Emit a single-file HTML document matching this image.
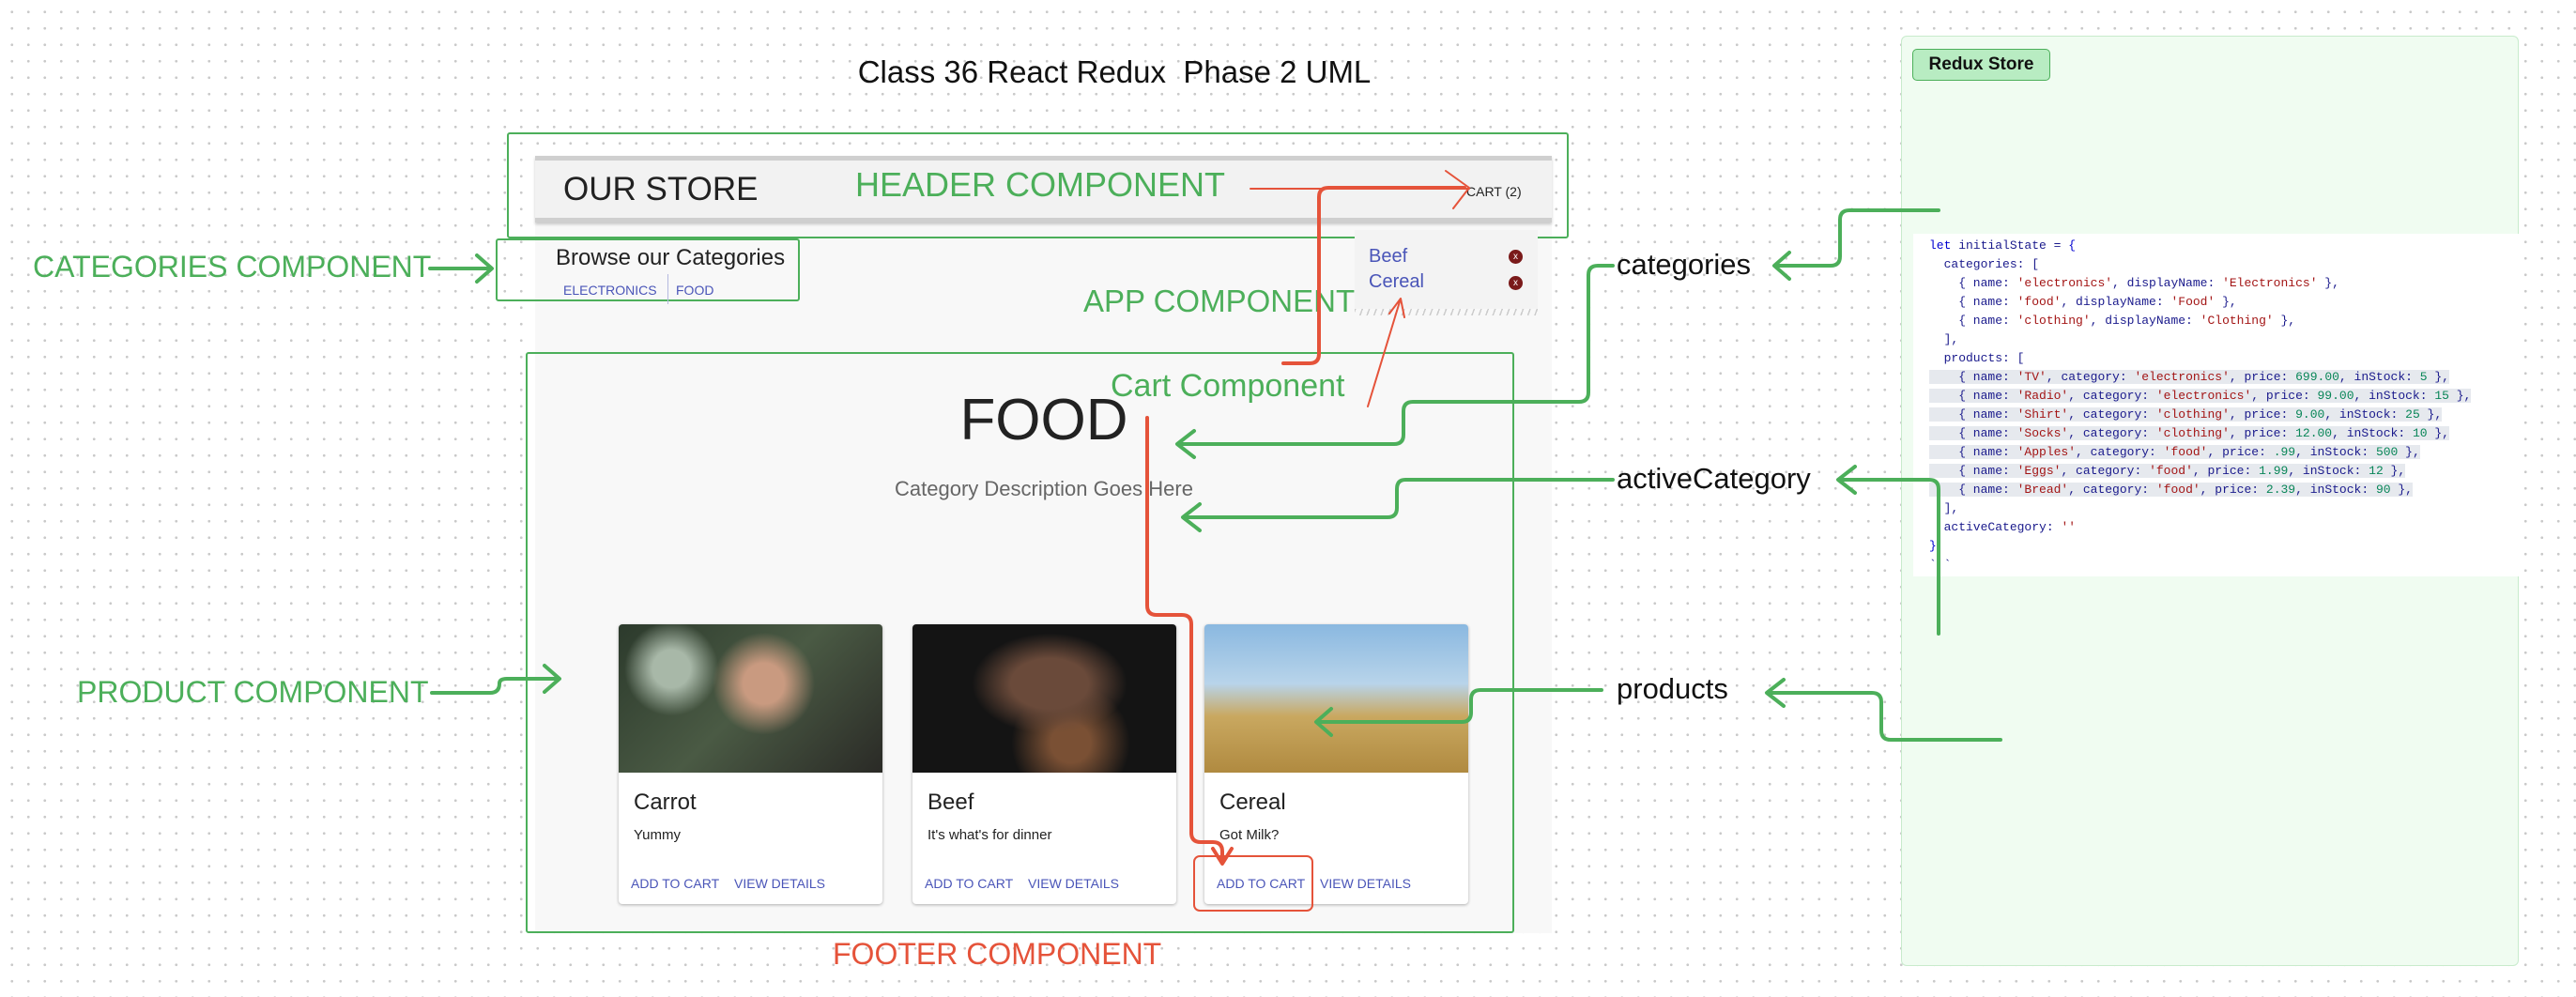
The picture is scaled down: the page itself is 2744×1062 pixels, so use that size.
<!DOCTYPE html>
<html><head><meta charset="utf-8">
<style>
*{margin:0;padding:0;box-sizing:border-box}
body{width:2744px;height:1062px;position:relative;overflow:hidden;font-family:"Liberation Sans",sans-serif;
background-color:#fff;background-image:radial-gradient(circle,#c9c9c9 1.2px,transparent 1.6px);background-size:17.5px 17.5px;background-position:4px 4px}
.a{position:absolute}
.g{color:#4caf5a}
.r{color:#e5533a}
.code{font-family:"Liberation Mono",monospace;font-size:13px;line-height:20px;white-space:pre;color:#1a1a8c}
.k{color:#0000d0}.s{color:#a31515}.n{color:#098658}
.hl{background:#e6e9ee}
.card{position:absolute;top:665px;width:281px;height:298px;background:#fff;border-radius:4px;box-shadow:0 1px 3px rgba(0,0,0,.3);overflow:hidden}
.card .img{height:158px}
.card .t{position:absolute;left:16px;top:176px;font-size:24px;color:#222}
.card .d{position:absolute;left:16px;top:216px;font-size:15px;color:#222}
.card .b{position:absolute;top:268px;font-size:14px;color:#4a55b8}
</style></head><body>

<div class="a" style="left:0;top:58px;text-align:center;font-size:33px;color:#111;width:2374px">Class 36 React Redux&nbsp; Phase 2 UML</div>

<div class="a" style="left:570px;top:166px;width:1083px;height:828px;background:#f8f8f8"></div>
<div class="a" style="left:570px;top:166px;width:1083px;height:71px;background:#f2f2f2;border-top:5px solid #cfcfcf;border-bottom:5px solid #cfcfcf;box-shadow:0 2px 3px rgba(0,0,0,.2)"></div>
<div class="a" style="left:600px;top:182px;font-size:35px;color:#222">OUR STORE</div>
<div class="a g" style="left:911px;top:176px;font-size:36px">HEADER COMPONENT</div>
<div class="a" style="left:1562px;top:196px;font-size:14px;color:#222">CART (2)</div>
<div class="a" style="left:540px;top:141px;width:1131px;height:113px;border:2px solid #4caf5a;border-radius:3px"></div>

<div class="a" style="left:528px;top:254px;width:324px;height:67px;border:2px solid #4caf5a;border-radius:3px"></div>
<div class="a" style="left:592px;top:261px;font-size:24px;color:#222">Browse our Categories</div>
<div class="a" style="left:600px;top:301px;font-size:14px;color:#4a55b8">ELECTRONICS</div>
<div class="a" style="left:711px;top:292px;width:1px;height:32px;background:#b5b9e0"></div>
<div class="a" style="left:720px;top:301px;font-size:14px;color:#4a55b8">FOOD</div>
<div class="a g" style="left:35px;top:266px;font-size:32px">CATEGORIES COMPONENT</div>

<div class="a" style="left:1443px;top:245px;width:195px;height:84px;background:#f3f3f3"></div>
<div class="a" style="left:1443px;top:329px;width:195px;height:7px;background:repeating-linear-gradient(110deg,#ccc 0 1.5px,transparent 1.5px 7px)"></div>
<div class="a" style="left:1458px;top:262px;font-size:20px;color:#4a55b8">Beef</div>
<div class="a" style="left:1458px;top:289px;font-size:20px;color:#4a55b8">Cereal</div>
<div class="a" style="left:1607px;top:266px;width:15px;height:15px;border-radius:50%;background:#7a1a1a;color:#fff;font-size:10px;text-align:center;line-height:15px">x</div>
<div class="a" style="left:1607px;top:294px;width:15px;height:15px;border-radius:50%;background:#7a1a1a;color:#fff;font-size:10px;text-align:center;line-height:15px">x</div>
<div class="a g" style="left:1154px;top:302px;font-size:33px">APP COMPONENT</div>

<div class="a" style="left:560px;top:375px;width:1053px;height:619px;border:2px solid #4caf5a;border-radius:3px"></div>
<div class="a g" style="left:1183px;top:392px;font-size:34px">Cart Component</div>
<div class="a" style="left:962px;top:412px;width:300px;text-align:center;font-size:62px;color:#222">FOOD</div>
<div class="a" style="left:900px;top:508px;width:424px;text-align:center;font-size:22px;color:#666">Category Description Goes Here</div>

<div class="card" style="left:659px"><div class="img" style="background:radial-gradient(circle at 55% 40%,#c99a80 0 12%,transparent 30%),radial-gradient(circle at 20% 30%,#a8b8a8 0 8%,transparent 20%),linear-gradient(135deg,#2c3a2c,#4a5a44 50%,#2a2a26)"></div><div class="t">Carrot</div><div class="d">Yummy</div><div class="b" style="left:13px">ADD TO CART</div><div class="b" style="left:123px">VIEW DETAILS</div></div>
<div class="card" style="left:972px"><div class="img" style="background:radial-gradient(ellipse at 52% 40%,#6a4a3a 0 20%,transparent 40%),radial-gradient(circle at 60% 80%,#7a5034 0 10%,transparent 30%),#141414"></div><div class="t">Beef</div><div class="d">It's what's for dinner</div><div class="b" style="left:13px">ADD TO CART</div><div class="b" style="left:123px">VIEW DETAILS</div></div>
<div class="card" style="left:1283px"><div class="img" style="background:linear-gradient(180deg,#8ab8e0 0%,#b8d4ea 40%,#c9a860 62%,#b08a40 100%)"></div><div class="t">Cereal</div><div class="d">Got Milk?</div><div class="b" style="left:13px">ADD TO CART</div><div class="b" style="left:123px">VIEW DETAILS</div></div>

<div class="a" style="left:1271px;top:911px;width:128px;height:60px;border:2px solid #e5533a;border-radius:7px"></div>
<div class="a r" style="left:887px;top:998px;font-size:32px">FOOTER COMPONENT</div>
<div class="a g" style="left:82px;top:719px;font-size:32px">PRODUCT COMPONENT</div>

<div class="a" style="left:2025px;top:38px;width:658px;height:991px;background:#f0fcf1;border:1px solid #c8ebcc;border-radius:6px"></div>
<div class="a" style="left:2037px;top:52px;width:147px;height:34px;background:#b8ecc2;border:1px solid #4caf5a;border-radius:5px;font-weight:bold;font-size:19px;line-height:32px;text-align:center;color:#111">Redux Store</div>
<div class="a" style="left:2038px;top:249px;width:645px;height:365px;background:#fff"></div>
<div class="a code" style="left:2055px;top:252px"><span class="k">let</span> initialState = <span class="k">{</span>
  categories: [
    { name: <span class="s">'electronics'</span>, displayName: <span class="s">'Electronics'</span> },
    { name: <span class="s">'food'</span>, displayName: <span class="s">'Food'</span> },
    { name: <span class="s">'clothing'</span>, displayName: <span class="s">'Clothing'</span> },
  ],
  products: [
<span class="hl">    { name: <span class="s">'TV'</span>, category: <span class="s">'electronics'</span>, price: <span class="n">699.00</span>, inStock: <span class="n">5</span> },</span>
<span class="hl">    { name: <span class="s">'Radio'</span>, category: <span class="s">'electronics'</span>, price: <span class="n">99.00</span>, inStock: <span class="n">15</span> },</span>
<span class="hl">    { name: <span class="s">'Shirt'</span>, category: <span class="s">'clothing'</span>, price: <span class="n">9.00</span>, inStock: <span class="n">25</span> },</span>
<span class="hl">    { name: <span class="s">'Socks'</span>, category: <span class="s">'clothing'</span>, price: <span class="n">12.00</span>, inStock: <span class="n">10</span> },</span>
<span class="hl">    { name: <span class="s">'Apples'</span>, category: <span class="s">'food'</span>, price: <span class="n">.99</span>, inStock: <span class="n">500</span> },</span>
<span class="hl">    { name: <span class="s">'Eggs'</span>, category: <span class="s">'food'</span>, price: <span class="n">1.99</span>, inStock: <span class="n">12</span> },</span>
<span class="hl">    { name: <span class="s">'Bread'</span>, category: <span class="s">'food'</span>, price: <span class="n">2.39</span>, inStock: <span class="n">90</span> },</span>
  ],
  activeCategory: <span class="s">''</span>
<span class="k">}</span>
` `</div>

<div class="a" style="left:1722px;top:264px;font-size:31px;color:#111">categories</div>
<div class="a" style="left:1722px;top:492px;font-size:31px;color:#111">activeCategory</div>
<div class="a" style="left:1722px;top:716px;font-size:31px;color:#111">products</div>

<svg class="a" style="left:0;top:0" width="2744" height="1062" fill="none" stroke-linecap="round" stroke-linejoin="round">
<g stroke="#4caf5a" stroke-width="4">
<path d="M458 286 H522 M508 272 L524 286 L508 300"/>
<path d="M460 738 H522 Q532 738 532 728 Q532 723 540 723 H594 M580 709 L596 723 L580 737"/>
<path d="M2065 224 H1970 Q1960 224 1960 234 V273 Q1960 283 1950 283 H1892 M1906 269 L1890 283 L1906 297"/>
<path d="M1718 283 H1702 Q1692 283 1692 293 V418 Q1692 428 1682 428 H1505 Q1495 428 1495 438 V463 Q1495 473 1485 473 H1256 M1272 459 L1254 473 L1272 487"/>
<path d="M2065 675 V521 Q2065 511 2055 511 H1960 M1976 497 L1958 511 L1976 525"/>
<path d="M1718 511 H1497 Q1488 511 1488 521 V541 Q1488 551 1478 551 H1262 M1278 537 L1260 551 L1278 565"/>
<path d="M2131 788 H2014 Q2004 788 2004 778 V748 Q2004 738 1994 738 H1884 M1900 724 L1882 738 L1900 752"/>
<path d="M1706 735 H1577 Q1567 735 1567 745 V759 Q1567 769 1557 769 H1404 M1418 755 L1402 769 L1418 783"/>
</g>
<g stroke="#e5533a" stroke-width="4">
<path d="M1367 387 H1395 Q1405 387 1405 377 V210 Q1405 200 1415 200 H1560"/>
<path d="M1222 445 V645 Q1222 655 1232 655 H1259 Q1269 655 1269 665 V887 Q1269 897 1279 897 H1292 Q1302 897 1302 907 V918 M1292 904 L1302 920 L1312 904"/>
</g>
<g stroke="#e5533a" stroke-width="2">
<path d="M1332 201 H1565 M1540 182 L1565 200 L1548 222"/>
<path d="M1457 433 L1492 318 M1480 334 L1492 318 L1496 338"/>
</g>
</svg>
</body></html>
